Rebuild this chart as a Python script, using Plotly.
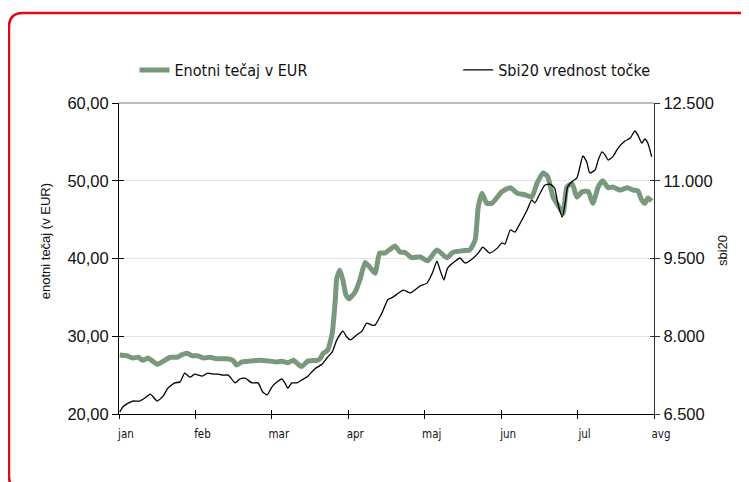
import plotly.graph_objects as go

# ---- data (x in months since 1 Jan) ----
enotni_x = [0.01,0.10,0.18,0.25,0.31,0.38,0.50,0.58,0.67,0.76,0.82,0.89,0.96,1.03,1.10,1.19,1.28,1.41,1.49,1.54,
            1.61,1.71,1.84,1.97,2.07,2.13,2.21,2.28,2.39,2.47,2.59,2.63,2.67,2.73,2.79,2.83,2.85,2.89,2.93,2.97,
            3.01,3.09,3.15,3.22,3.28,3.35,3.41,3.48,3.55,3.61,3.68,3.74,3.83,3.94,4.04,4.16,4.29,4.37,4.50,4.59,
            4.66,4.70,4.75,4.81,4.88,4.95,5.01,5.12,5.21,5.31,5.40,5.47,5.55,5.61,5.68,5.74,5.81,5.86,5.93,5.99,
            6.06,6.14,6.20,6.27,6.33,6.40,6.46,6.56,6.65,6.73,6.79,6.84,6.88,6.92,6.97]
enotni_y = [27.6,27.5,27.2,27.3,26.9,27.2,26.4,26.8,27.3,27.3,27.6,27.8,27.5,27.5,27.2,27.3,27.1,27.1,26.9,26.3,
            26.7,26.8,26.9,26.8,26.7,26.8,26.6,26.9,26.1,26.8,26.9,27.1,27.8,28.2,30.4,34.7,37.5,38.5,37.2,35.3,
            34.8,35.7,37.2,39.5,38.9,38.1,40.7,40.7,41.2,41.6,40.8,40.8,40.1,40.2,39.7,41.1,40.1,40.8,41.0,41.1,
            42.4,46.6,48.4,47.1,47.1,47.9,48.6,49.1,48.4,48.2,47.9,49.7,51.0,50.5,47.9,46.9,45.8,49.2,49.6,47.9,
            48.6,48.6,47.1,49.2,50.0,49.1,49.2,48.8,49.1,48.8,48.7,47.5,47.1,47.8,47.4]

sbi_x = [0.01,0.05,0.12,0.18,0.27,0.34,0.41,0.50,0.58,0.64,0.73,0.80,0.86,0.93,0.99,1.09,1.16,1.23,1.30,1.36,
         1.43,1.52,1.58,1.65,1.74,1.82,1.88,1.94,2.00,2.07,2.13,2.17,2.21,2.26,2.33,2.39,2.47,2.56,2.66,2.72,
         2.79,2.85,2.93,2.98,3.03,3.11,3.18,3.24,3.31,3.35,3.44,3.52,3.58,3.72,3.81,3.87,3.94,4.03,4.10,4.16,
         4.20,4.25,4.30,4.40,4.46,4.53,4.62,4.70,4.76,4.85,4.95,5.01,5.05,5.12,5.18,5.25,5.34,5.40,5.44,5.51,
         5.57,5.64,5.70,5.74,5.80,5.84,5.87,5.94,5.99,6.03,6.07,6.12,6.16,6.23,6.27,6.32,6.36,6.40,6.46,6.53,
         6.62,6.69,6.75,6.79,6.84,6.88,6.92,6.97]
sbi_y = [6540,6635,6710,6750,6750,6810,6885,6750,6850,7000,7100,7120,7290,7210,7270,7230,7290,7270,7270,7250,
         7250,7100,7175,7190,7100,7100,6925,6870,7020,7120,7175,7100,7000,7100,7100,7155,7230,7370,7465,7580,
         7700,7930,8100,7985,7930,8025,8100,8255,8215,8215,8450,8710,8750,8890,8835,8890,8970,9025,9220,9450,
         9280,9085,9315,9450,9510,9410,9490,9605,9720,9605,9700,9800,9780,10050,10010,10185,10435,10630,10570,10760,
         10915,10935,10860,10570,10300,10590,10880,11000,11050,11265,11480,11360,11150,11210,11400,11555,11495,11400,11460,11630,
         11765,11825,11960,11880,11725,11805,11725,11460]

month_ticks = [0, 1, 2, 3, 4, 5, 6, 7]
month_labels = ["jan", "feb", "mar", "apr", "maj", "jun", "jul", "avg"]
left_ticks = [20, 30, 40, 50, 60]
left_labels = ["20,00", "30,00", "40,00", "50,00", "60,00"]
right_ticks = [6500, 8000, 9500, 11000, 12500]
right_labels = ["6.500", "8.000", "9.500", "11.000", "12.500"]

GREEN = "#7a987c"
RED = "#e30613"
NARROW = "Liberation Sans Narrow, Arial Narrow, DejaVu Sans Condensed, sans-serif"
SANS = "Liberation Sans, Arial, sans-serif"

fig = go.Figure()
fig.add_trace(go.Scatter(x=enotni_x, y=enotni_y, name="Enotni tečaj v EUR", mode="lines",
                         line=dict(color=GREEN, width=5, shape="spline", smoothing=0.5), yaxis="y",
                         legend="legend"))
fig.add_trace(go.Scatter(x=sbi_x, y=sbi_y, name="Sbi20 vrednost točke", mode="lines",
                         line=dict(color="black", width=1.3, shape="spline", smoothing=0.5), yaxis="y2",
                         legend="legend2"))

# page body has an 8px margin -> figure is 741x474 placed at (8,8)
leg_font = dict(family=NARROW, size=16, color="#111")
fig.update_layout(
    width=741, height=474,
    margin=dict(l=111, r=95, t=95, b=68, autoexpand=False),
    paper_bgcolor="white", plot_bgcolor="white",
    showlegend=True,
    legend=dict(x=0.029, y=1.106, xanchor="left", yanchor="middle", font=leg_font,
                bgcolor="rgba(0,0,0,0)"),
    legend2=dict(x=0.634, y=1.106, xanchor="left", yanchor="middle", font=leg_font,
                 bgcolor="rgba(0,0,0,0)"),
    xaxis=dict(range=[0, 7], tickvals=month_ticks, ticktext=month_labels,
               ticks="outside", ticklen=4, tickcolor="black", showgrid=False, zeroline=False,
               showline=True, linecolor="black", linewidth=1,
               tickfont=dict(family=NARROW, size=11.5, color="#111"), ticklabelshift=7,
               ticklabelstandoff=5),
    xaxis2=dict(range=[0, 7], overlaying="x", tickvals=month_ticks, ticks="inside", ticklen=4,
                tickcolor="black", showticklabels=False, showgrid=False, zeroline=False),
    yaxis=dict(range=[20, 60], tickvals=left_ticks, ticktext=left_labels, ticks="outside", ticklen=6,
               tickcolor="black", showgrid=True, gridcolor="#e4e4e4", gridwidth=1, zeroline=False,
               showline=True, linecolor="black", linewidth=1,
               tickfont=dict(family=SANS, size=16.5, color="#111")),
    yaxis2=dict(range=[6500, 12500], overlaying="y", side="right", tickvals=right_ticks, ticktext=right_labels,
                ticks="outside", ticklen=5, tickcolor="#333", showgrid=False, zeroline=False,
                showline=True, linecolor="#333", linewidth=1.2,
                tickfont=dict(family=SANS, size=16.5, color="#111")),
    yaxis3=dict(range=[20, 60], overlaying="y", tickvals=left_ticks, ticks="inside", ticklen=5,
                tickcolor="black", showticklabels=False, showgrid=False, zeroline=False),
    yaxis4=dict(range=[6500, 12500], overlaying="y", side="right", tickvals=right_ticks, ticks="inside",
                ticklen=4, tickcolor="#333", showticklabels=False, showgrid=False, zeroline=False),
)
# invisible traces to activate overlay axes
fig.add_trace(go.Scatter(x=[None], y=[None], xaxis="x2", yaxis="y3", showlegend=False, hoverinfo="skip"))
fig.add_trace(go.Scatter(x=[None], y=[None], xaxis="x", yaxis="y4", showlegend=False, hoverinfo="skip"))

# top grey border line of plot area
fig.add_shape(type="line", xref="paper", yref="paper", x0=0, x1=1, y0=1, y1=1,
              line=dict(color="#a6a6a6", width=1.5))

# red rounded frame (pixel offsets from plot-area bottom-left)
L, T, R, B, r = -110, 401, 660, -76, 14
path = (f"M {R},{B} L {L + r},{B} Q {L},{B} {L},{B + r} L {L},{T - r} "
        f"Q {L},{T} {L + r},{T} L {R},{T}")
fig.add_shape(type="path", xref="paper", yref="paper", xsizemode="pixel", ysizemode="pixel",
              xanchor=0, yanchor=0, path=path, line=dict(color=RED, width=2.5))

fig.add_annotation(text="enotni tečaj (v EUR)", xref="paper", yref="paper", x=-0.138, y=0.556,
                   xanchor="center", yanchor="middle",
                   textangle=-90, showarrow=False, font=dict(family=SANS, size=13, color="#111"))
fig.add_annotation(text="sbi20", xref="paper", yref="paper", x=1.127, y=0.527,
                   xanchor="center", yanchor="middle",
                   textangle=-90, showarrow=False, font=dict(family=SANS, size=13, color="#111"))

fig.write_html("out.html")
